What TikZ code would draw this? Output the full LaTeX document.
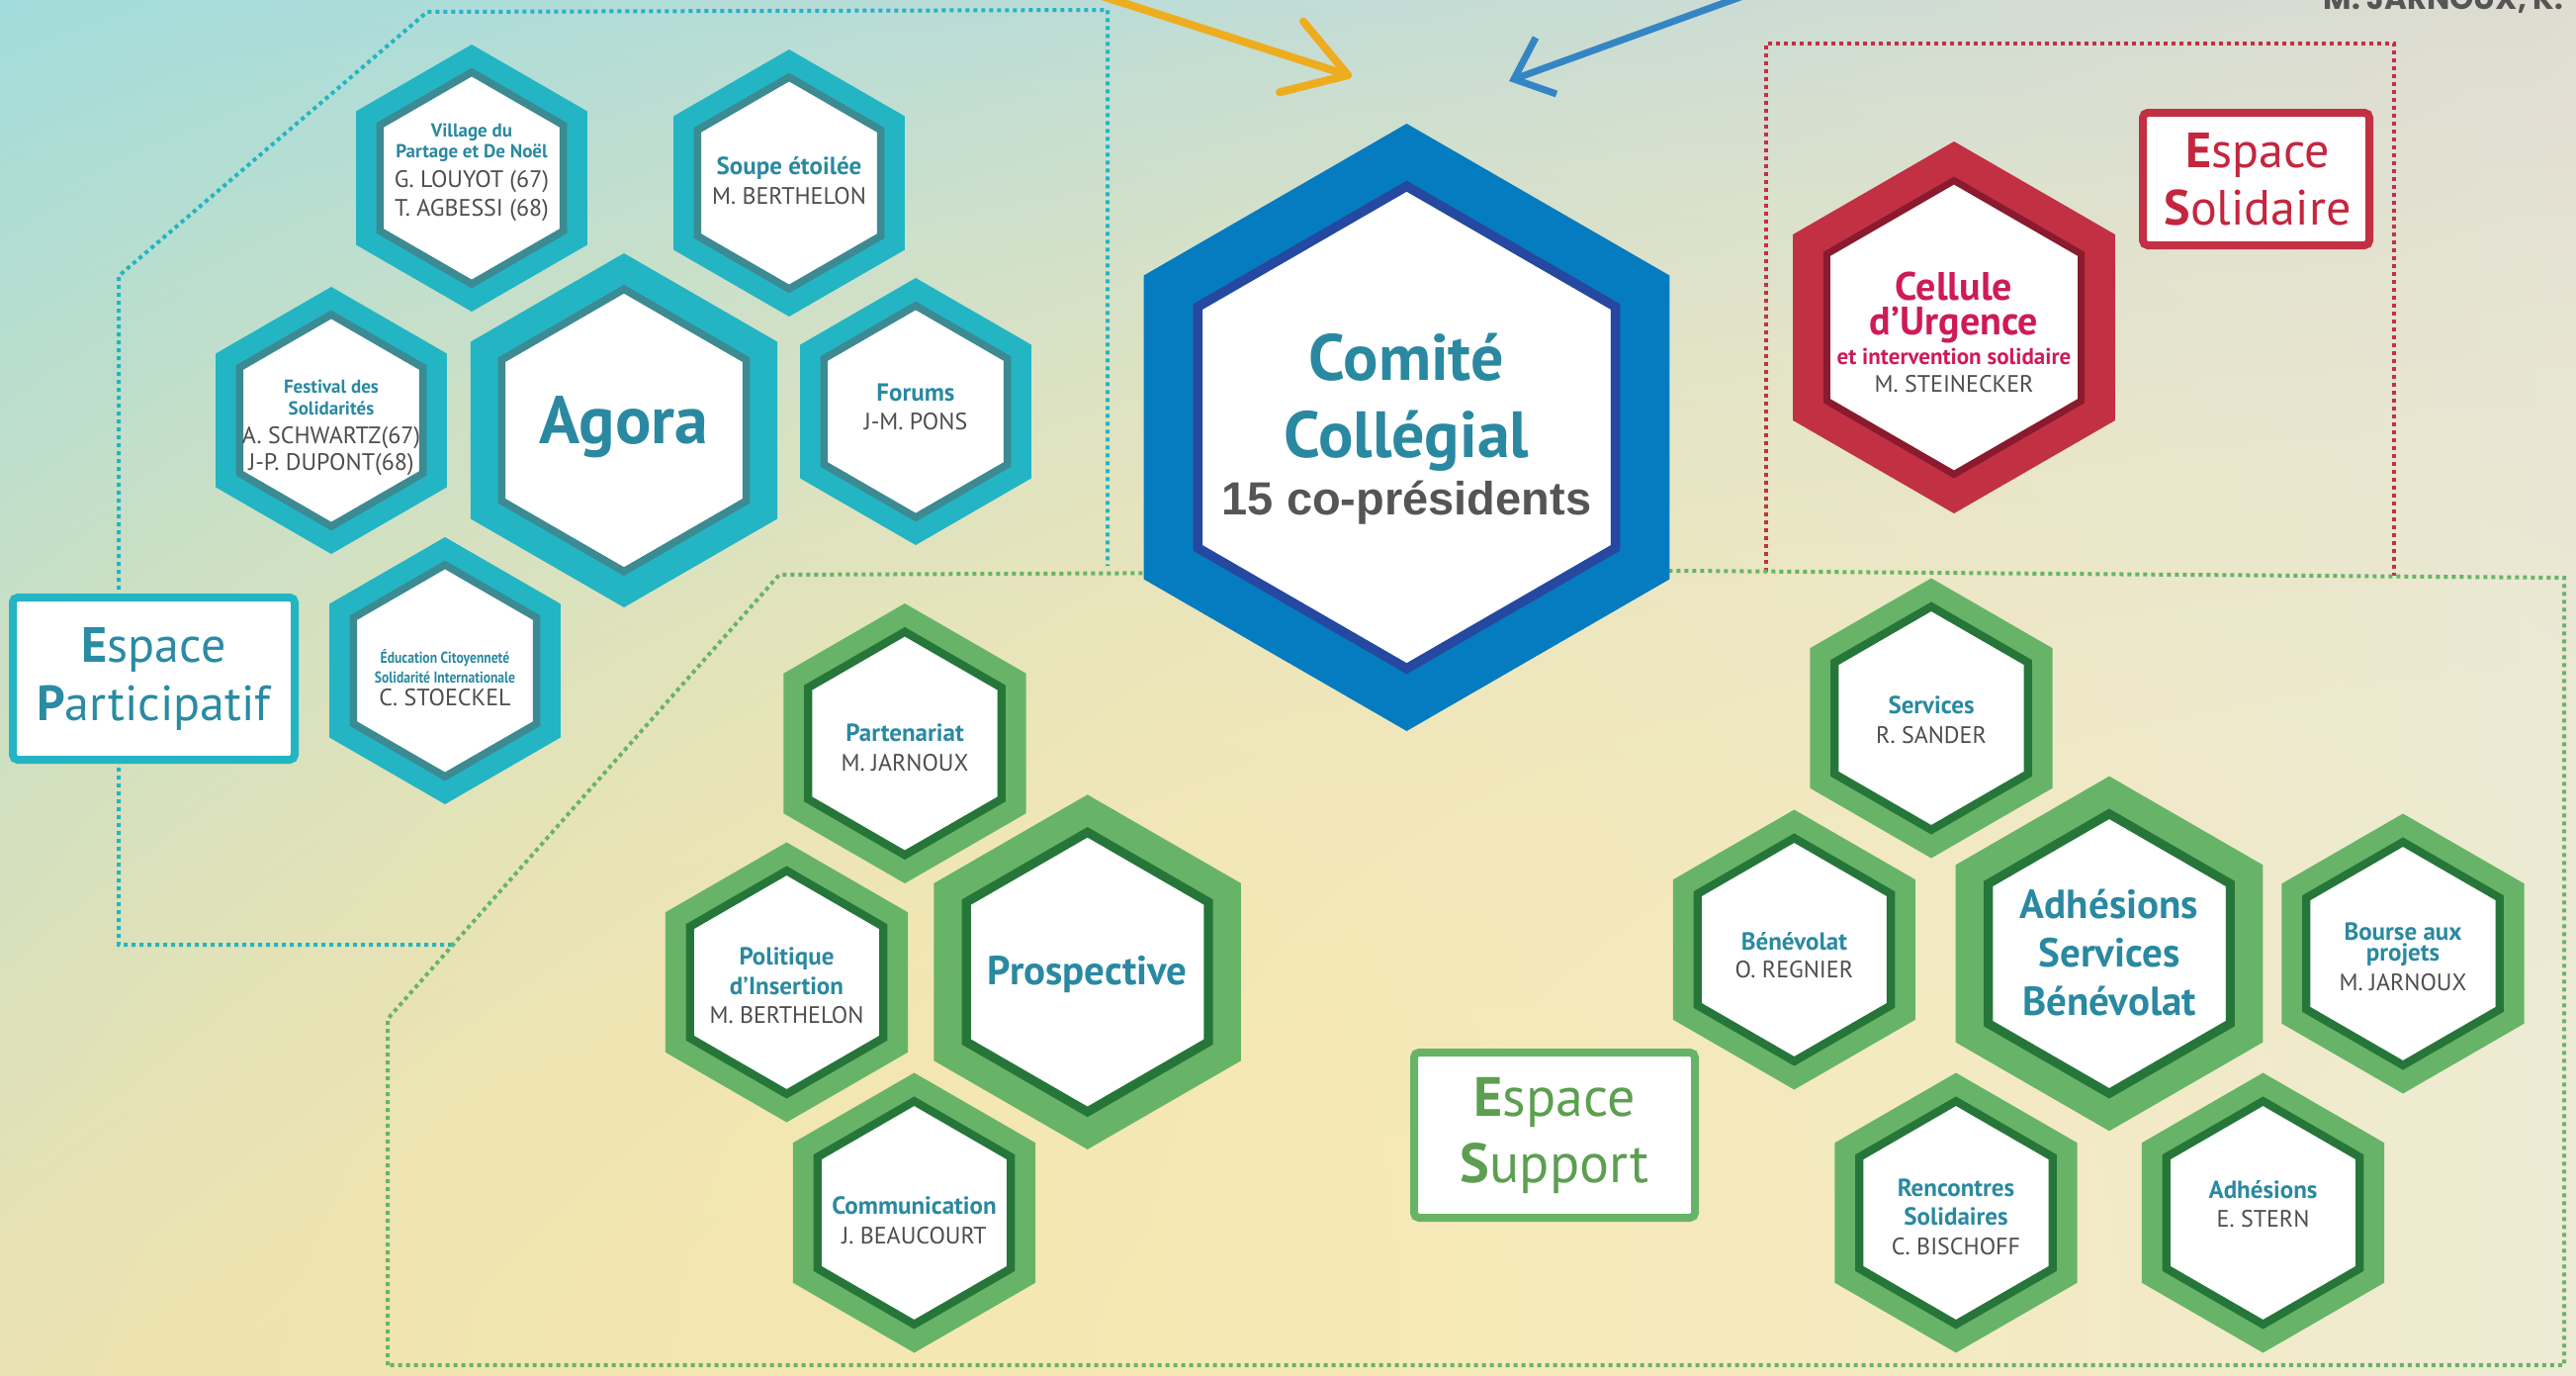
\documentclass[tikz,border=0pt]{standalone}
\usepackage{fontspec}
\newfontfamily\cf{PT Sans}
\newfontfamily\cfc[FakeStretch=0.85]{PT Sans}
\newfontfamily\arb{Liberation Sans}
\newfontfamily\geo{Poppins}
\definecolor{tealo}{HTML}{23B5C3}
\definecolor{teald}{HTML}{3C8A92}
\definecolor{greeno}{HTML}{67B468}
\definecolor{greend}{HTML}{26763A}
\definecolor{blueo}{HTML}{057CBF}
\definecolor{blued}{HTML}{2548A0}
\definecolor{redo}{HTML}{C13143}
\definecolor{redd}{HTML}{8A1A2D}
\definecolor{ttlc}{HTML}{2A89A1}
\definecolor{nmc}{HTML}{4D4D4D}
\definecolor{cellc}{HTML}{CE1B57}
\definecolor{solc}{HTML}{C5263F}
\definecolor{supc}{HTML}{5C9F50}
\definecolor{partc}{HTML}{2A8BA3}
\definecolor{yelc}{HTML}{EDAD1E}
\definecolor{barc}{HTML}{3585C5}
\definecolor{copc}{HTML}{555555}
\pgfdeclarefunctionalshading{bgshade}{\pgfpointorigin}{\pgfpoint{100bp}{100bp}}{}{
 25 sub 50 div dup 0 lt {pop 0} if dup 1 gt {pop 1} if
 1 exch sub
 exch 25 sub 50 div dup 0 lt {pop 0} if dup 1 gt {pop 1} if
 dup dup 0.5 gt {pop 0.5} if 3 mul 1.2 add
 2 index 1 exch sub exch exp 1 exch sub
 3 -1 roll pop
 1 index dup 1 exch sub mul
 2 index 0.24 mul 0.635 add
 3 index 0.011 mul 0.918 add 2 index 0.164 mul add
 1 index sub 3 index mul add
 0.863
 4 index 0.036 mul 0.886 add 3 index 0.024 mul add
 1 index sub 4 index mul add
 4 index -0.039 mul 0.859 add
 5 index 0.137 mul 0.698 add
 4 index -0.228 mul add
 1 index sub 5 index mul add
 6 3 roll pop pop pop
}
\newcommand\hexcell[7]{%
  \fill[#5, shift={(#1,#2)}] (90:#3) -- (150:#3) -- (210:#3) -- (270:#3) -- (330:#3) -- (30:#3) -- cycle;
  \filldraw[fill=white, draw=#6, line width=#7pt, shift={(#1,#2)}] (90:#4) -- (150:#4) -- (210:#4) -- (270:#4) -- (330:#4) -- (30:#4) -- cycle;}
\newcommand\lbl[5]{\node[#4, anchor=base] (#1) at (#2,#3) {#5};}
\tikzset{
 dotline/.style={line width=4pt, dash pattern=on 4pt off 4pt},
 ttl/.style={text=ttlc, font=\cf\bfseries\fontsize{25}{28}\selectfont, inner sep=0pt},
 ttls/.style={text=ttlc, font=\cf\bfseries\fontsize{19}{22}\selectfont, inner sep=0pt},
 ttlxs/.style={text=ttlc, font=\cfc\bfseries\fontsize{16}{18}\selectfont, inner sep=0pt},
 nm/.style={text=nmc, font=\cf\fontsize{24}{28}\selectfont, inner sep=0pt},
 bigt/.style={text=ttlc, font=\cf\bfseries\fontsize{#1}{#1}\selectfont, inner sep=0pt},
 esp/.style={font=\cf\fontsize{#1}{#1}\selectfont, inner sep=0pt},
 espbox/.style={line width=8pt, rounded corners=5pt, fill=white, inner sep=0pt},
}
\begin{document}
\begin{tikzpicture}[x=1pt,y=-1pt]
\useasboundingbox (0,0) rectangle (2605,1390);
\clip (0,0) rectangle (2605,1390);
% background
\shade[shading=bgshade] (0,0) rectangle (2605,1390);
% dotted zones
\draw[dotline, tealo] (457,955) -- (120,955) -- (120,279) -- (432,12) -- (1120,10) -- (1120,572);
\draw[dotline, redo] (1786,578) -- (1786,44) -- (2421,44) -- (2421,582);
\draw[dotline, greeno] (392,1380) -- (392,1030) -- (788,581) -- (1700,577) -- (2593,584) -- (2593,1380) -- cycle;
% teal hexagons
\hexcell{477}{180}{135}{107}{tealo}{teald}{7.6}
\hexcell{798}{185}{135}{107}{tealo}{teald}{7.6}
\hexcell{335}{425}{135}{107}{tealo}{teald}{7.6}
\hexcell{926}{416}{135}{107}{tealo}{teald}{7.6}
\hexcell{450}{678}{135}{107}{tealo}{teald}{7.6}
\hexcell{631}{435}{179}{142.7}{tealo}{teald}{7.6}
% comite
\hexcell{1422.5}{432}{307}{243.8}{blueo}{blued}{9.6}
% cellule
\hexcell{1976}{331}{188}{148.5}{redo}{redd}{7}
% green hexagons
\hexcell{915}{751.5}{141.5}{112.8}{greeno}{greend}{8.3}
\hexcell{795.5}{993}{141.5}{112.8}{greeno}{greend}{8.3}
\hexcell{924.5}{1226}{141.5}{112.8}{greeno}{greend}{8.3}
\hexcell{1099.7}{982.6}{179.3}{141.3}{greeno}{greend}{9.2}
\hexcell{1953}{726}{141.5}{112.8}{greeno}{greend}{8.3}
\hexcell{1814.4}{960}{141.5}{112.8}{greeno}{greend}{8.3}
\hexcell{2133}{964}{179.3}{141.3}{greeno}{greend}{9.2}
\hexcell{2430}{964}{141.5}{112.8}{greeno}{greend}{8.3}
\hexcell{1978}{1226}{141.5}{112.8}{greeno}{greend}{8.3}
\hexcell{2288.5}{1226}{141.5}{112.8}{greeno}{greend}{8.3}
% espace boxes
\node[espbox, draw=tealo, minimum width=285pt, minimum height=164pt] (espP) at (155.5,686) {};
\node[espbox, draw=redo, minimum width=229pt, minimum height=134pt] (espS) at (2281.5,181) {};
\node[espbox, draw=greeno, minimum width=284pt, minimum height=167pt] (espU) at (1572,1147.5) {};
\lbl{espP1}{155.5}{669}{esp=50, text=partc}{\textbf{E}space}
\lbl{espP2}{155.5}{728}{esp=50, text=partc}{\textbf{P}articipatif}
\lbl{espS1}{2283}{169.6}{esp=50, text=solc}{\textbf{E}space}
\lbl{espS2}{2283}{227}{esp=50, text=solc}{\textbf{S}olidaire}
\lbl{espU1}{1572}{1128.6}{esp=56, text=supc}{\textbf{E}space}
\lbl{espU2}{1572}{1195.5}{esp=56, text=supc}{\textbf{S}upport}
% teal labels
\lbl{vil1}{477}{138}{ttls}{Village du}
\lbl{vil2}{477}{159.5}{ttls}{Partage et De Noël}
\lbl{vil3}{477}{189}{nm}{G. LOUYOT (67)}
\lbl{vil4}{477}{218}{nm}{T. AGBESSI (68)}
\lbl{sou1}{798}{176.5}{ttl}{Soupe étoilée}
\lbl{sou2}{798}{206}{nm}{M. BERTHELON}
\lbl{fes1}{335}{397.5}{ttls}{Festival des}
\lbl{fes2}{335}{419}{ttls}{Solidarités}
\lbl{fes3}{335}{448}{nm}{A. SCHWARTZ(67)}
\lbl{fes4}{335}{475}{nm}{J-P. DUPONT(68)}
\lbl{for1}{926}{405.5}{ttl}{Forums}
\lbl{for2}{926}{434.5}{nm}{J-M. PONS}
\lbl{ago}{631}{448.7}{bigt=68}{Agora}
\lbl{edu1}{450}{670}{ttlxs}{Éducation Citoyenneté}
\lbl{edu2}{450}{690}{ttlxs}{Solidarité Internationale}
\lbl{edu3}{450}{713}{nm}{C. STOECKEL}
% comite labels
\lbl{com1}{1422.5}{384}{bigt=66}{Comité}
\lbl{com2}{1422.5}{462}{bigt=66}{Collégial}
\node[anchor=base, inner sep=0pt, text=copc, font=\arb\bfseries\fontsize{47}{47}\selectfont] (com3) at (1422.5,520) {15 co-présidents};
% cellule labels
\lbl{cel1}{1976}{303}{bigt=40, text=cellc}{Cellule}
\lbl{cel2}{1976}{338}{bigt=40, text=cellc}{d’Urgence}
\lbl{cel3}{1976}{368}{bigt=23, text=cellc}{et intervention solidaire}
\lbl{cel4}{1976}{396}{nm}{M. STEINECKER}
% green labels
\lbl{par1}{915}{749.5}{ttl}{Partenariat}
\lbl{par2}{915}{779}{nm}{M. JARNOUX}
\lbl{pol1}{795.5}{975}{ttl}{Politique}
\lbl{pol2}{795.5}{1005}{ttl}{d’Insertion}
\lbl{pol3}{795.5}{1034.5}{nm}{M. BERTHELON}
\lbl{pro}{1099.7}{995.7}{bigt=41}{Prospective}
\lbl{cmm1}{924.5}{1227.5}{ttl}{Communication}
\lbl{cmm2}{924.5}{1257}{nm}{J. BEAUCOURT}
\lbl{ser1}{1953}{721.5}{ttl}{Services}
\lbl{ser2}{1953}{751}{nm}{R. SANDER}
\lbl{ben1}{1814.4}{960}{ttl}{Bénévolat}
\lbl{ben2}{1814.4}{988}{nm}{O. REGNIER}
\lbl{asb1}{2133}{928}{bigt=41}{Adhésions}
\lbl{asb2}{2133}{977}{bigt=41}{Services}
\lbl{asb3}{2133}{1026}{bigt=41}{Bénévolat}
\lbl{bou1}{2430}{950}{ttl}{Bourse aux}
\lbl{bou2}{2430}{971}{ttl}{projets}
\lbl{bou3}{2430}{1001}{nm}{M. JARNOUX}
\lbl{ren1}{1978}{1209}{ttl}{Rencontres}
\lbl{ren2}{1978}{1238}{ttl}{Solidaires}
\lbl{ren3}{1978}{1268}{nm}{C. BISCHOFF}
\lbl{adh1}{2288.5}{1211}{ttl}{Adhésions}
\lbl{adh2}{2288.5}{1240}{nm}{E. STERN}
% top right text
\node[anchor=base east, inner sep=0pt, text=copc, font=\geo\bfseries\fontsize{31}{31}\selectfont] (topname) at (2592,9.3) {M. JARNOUX, K.};
% arrows
\coordinate (yA) at (1080,-15);
\coordinate (yT) at (1363,76);
\coordinate (yL) at (1318,21.7);
\coordinate (yR) at (1294,93.3);
\draw[yelc, line width=8pt, line cap=round] (yA) -- (yT);
\draw[yelc, line width=8pt, line cap=round, line join=round] (yL) -- (yT) -- (yR);
\coordinate (bA) at (1793,-15);
\coordinate (bT) at (1531,80);
\coordinate (bL) at (1553,38);
\coordinate (bR) at (1574,95);
\draw[barc, line width=7pt] (bA) -- (bT);
\draw[barc, line width=7pt] (bL) -- (bT) -- (bR);
\end{tikzpicture}
\end{document}
